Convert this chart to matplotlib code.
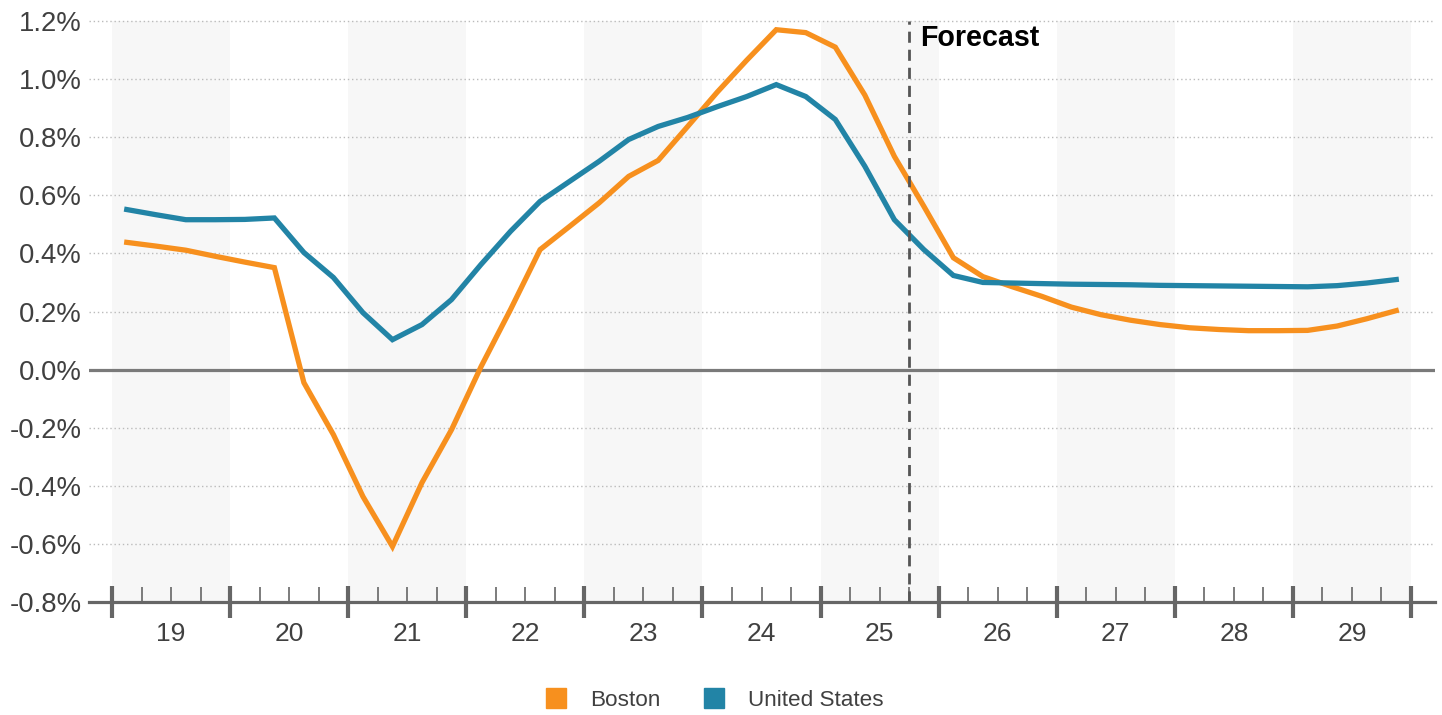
import matplotlib
matplotlib.use("Agg")
import matplotlib.pyplot as plt
import matplotlib.transforms as mtransforms
from matplotlib.lines import Line2D
import numpy as np

plt.rcParams['font.family'] = ['Liberation Sans', 'DejaVu Sans']

# Quarterly growth rates (%), 2019 Q1 through 2029 Q4
years = [19, 20, 21, 22, 23, 24, 25, 26, 27, 28, 29]
boston = [0.438, 0.425, 0.411, 0.390, 0.370, 0.351,
          -0.045, -0.224, -0.437, -0.609, -0.389, -0.207,
          0.010, 0.207, 0.413, 0.493, 0.574, 0.665,
          0.720, 0.837, 0.955, 1.065, 1.170, 1.160,
          1.110, 0.945, 0.734, 0.562, 0.385, 0.320,
          0.285, 0.252, 0.215, 0.189, 0.170, 0.155,
          0.144, 0.138, 0.134, 0.134, 0.135, 0.150,
          0.175, 0.203]
united_states = [0.551, 0.533, 0.516, 0.516, 0.517, 0.522,
                 0.403, 0.317, 0.196, 0.103, 0.155, 0.241,
                 0.362, 0.476, 0.579, 0.648, 0.717, 0.792,
                 0.837, 0.868, 0.905, 0.940, 0.981, 0.940,
                 0.861, 0.700, 0.516, 0.413, 0.324, 0.300,
                 0.298, 0.296, 0.294, 0.293, 0.292, 0.290,
                 0.289, 0.288, 0.287, 0.286, 0.285, 0.289,
                 0.298, 0.310]
y_ticks = [-0.8, -0.6, -0.4, -0.2, 0.0, 0.2, 0.4, 0.6, 0.8, 1.0, 1.2]
forecast_start = 25.25

ORANGE = '#F7901E'
BLUE = '#2284A6'
TXT = '#404040'
AXIS = '#666666'

fig = plt.figure(figsize=(14.42, 7.15), dpi=100)
ax = fig.add_axes([89 / 1442, 113 / 715, (1435 - 89) / 1442, (715 - 113 - 15) / 715])

first, last = years[0] - 0.5, years[-1] + 0.5
ax.set_xlim(first - 23 / 118.1, last + 24 / 118.1)
ax.set_ylim(-0.8, 1.2 + 6 / 290.5)

# alternating year bands
for k, yr in enumerate(years):
    if k % 2 == 0:
        ax.fill_between([yr - 0.5, yr + 0.5], -0.8, 1.2, color='#F7F7F7', lw=0, zorder=0)

# dotted gridlines
for v in y_ticks[1:]:
    if v == 0:
        continue
    ax.axhline(v, color='#BBBBBB', lw=1.0, ls=(0, (1, 2)), zorder=1)
ax.axhline(0, color='#7A7A7A', lw=2.3, zorder=2)

# quarterly series
x = np.array([first + 0.125 + 0.25 * i for i in range(len(boston))])
ax.plot(x, boston, color=ORANGE, lw=3.8, solid_joinstyle='miter', zorder=4)
ax.plot(x, united_states, color=BLUE, lw=3.8, solid_joinstyle='miter', zorder=4)

# forecast divider
ax.plot([forecast_start, forecast_start], [-0.8, 1.2], color='#555555', lw=2.0,
        ls=(0, (4, 2.5)), zorder=5)
ax.text(forecast_start + 0.09, 1.14, 'Forecast', fontsize=20.6, fontweight='bold',
        color='black', ha='left', va='center', zorder=6)

# axes styling
for s in ['left', 'right', 'top']:
    ax.spines[s].set_visible(False)
ax.spines['bottom'].set_color(AXIS)
ax.spines['bottom'].set_linewidth(2.3)
ax.spines['bottom'].set_bounds(ax.get_xlim()[0], ax.get_xlim()[1])

ax.set_yticks(y_ticks)
ax.set_yticklabels([f'{v:.1f}%' for v in y_ticks], fontsize=19.8, color=TXT)
ax.tick_params(axis='y', length=0, pad=5)

boundaries = [yr - 0.5 for yr in years] + [last]
quarters = [yr - 0.5 + q * 0.25 for yr in years for q in (1, 2, 3)]
ax.set_xticks(boundaries)
ax.set_xticks(quarters, minor=True)
ax.set_xticklabels([])
ax.tick_params(axis='x', which='major', direction='inout', length=23, width=3.0, color=AXIS)
ax.tick_params(axis='x', which='minor', direction='in', length=11, width=1.2, color=AXIS)

trans = mtransforms.blended_transform_factory(ax.transData, ax.transAxes)
for yr in years:
    ax.text(yr, -0.055, f'{yr}', transform=trans, ha='center', va='center',
            fontsize=19, color=TXT)

handles = [Line2D([], [], ls='none', marker='s', markersize=14.5, color=ORANGE, label='Boston'),
           Line2D([], [], ls='none', marker='s', markersize=14.5, color=BLUE, label='United States')]
fig.legend(handles=handles, loc='center', bbox_to_anchor=(714 / 1442, 15 / 715), ncol=2,
           frameon=False, fontsize=16.2, handlelength=1.0, handletextpad=1.0,
           columnspacing=1.9, borderpad=0, labelcolor=TXT)

fig.savefig('out.png', dpi=100)
